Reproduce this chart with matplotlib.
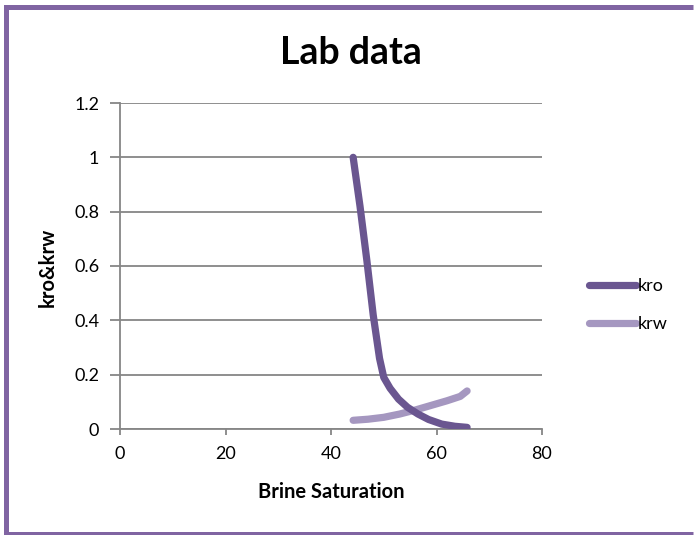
import matplotlib
matplotlib.use("Agg")
import matplotlib.pyplot as plt
from matplotlib.lines import Line2D

plt.rcParams["font.family"] = ["Lato", "DejaVu Sans"]

# Lab data: relative permeability vs brine saturation
sw_kro = [44.2, 45.5, 46.8, 48.0, 49.2, 50.0, 51.2, 52.8, 54.5, 56.5, 58.5, 61.0, 63.5, 65.8]
kro = [1.0, 0.82, 0.62, 0.42, 0.26, 0.19, 0.15, 0.11, 0.08, 0.055, 0.035, 0.018, 0.010, 0.006]

sw_krw = [44.2, 47.0, 50.0, 53.0, 56.0, 59.0, 62.0, 64.5, 65.8]
krw = [0.032, 0.036, 0.043, 0.055, 0.07, 0.087, 0.104, 0.12, 0.14]

x_ticks = [0, 20, 40, 60, 80]
y_ticks = [0, 0.2, 0.4, 0.6, 0.8, 1, 1.2]
y_labels = ["0", "0.2", "0.4", "0.6", "0.8", "1", "1.2"]

KRO_COLOR = "#6A5690"
KRW_COLOR = "#A597C0"
GRID = "#868686"
BORDER = "#8064A2"

fig = plt.figure(figsize=(6.94, 5.35), dpi=100)
ax = fig.add_axes([120 / 694, 1 - 429 / 535, 422 / 694, 326 / 535])

ax.plot(sw_kro, kro, color=KRO_COLOR, lw=5.2, solid_capstyle="round",
        solid_joinstyle="round", label="kro", zorder=3)
ax.plot(sw_krw, krw, color=KRW_COLOR, lw=5.2, solid_capstyle="round",
        solid_joinstyle="round", label="krw", zorder=2)

ax.set_xlim(0, 80)
ax.set_ylim(0, 1.2)
ax.set_xticks(x_ticks)
ax.set_yticks(y_ticks)
ax.set_yticklabels(y_labels)
ax.grid(axis="y", color=GRID, lw=1.3)
ax.set_axisbelow(True)

for s in ["top", "right"]:
    ax.spines[s].set_visible(False)
for s in ["left", "bottom"]:
    ax.spines[s].set_color(GRID)
    ax.spines[s].set_linewidth(1.3)
ax.tick_params(axis="y", length=7, width=1.3, color=GRID, labelsize=13, pad=8)
ax.tick_params(axis="x", length=4, width=1.3, color=GRID, labelsize=13, pad=8)

fig.text(351 / 694, 1 - 53 / 535, "Lab data", ha="center", va="center",
         fontsize=27, fontweight="bold")
fig.text(331 / 694, 1 - 492 / 535, "Brine Saturation", ha="center", va="center",
         fontsize=14.5, fontweight="bold")
fig.text(48 / 694, 1 - 267 / 535, "kro&krw", ha="center", va="center",
         rotation=90, fontsize=14.5, fontweight="bold")

fig.legend(loc="center left", bbox_to_anchor=(573 / 694, 1 - 305 / 535),
           frameon=False, fontsize=13, handlelength=2.6, handletextpad=0.1,
           labelspacing=1.2)

# purple chart border: one open path, right edge is cut off in the picture
x0, y_top, y_bot = 5.5 / 694, 1 - 6.5 / 535, 1.5 / 535
fig.add_artist(Line2D([0.999, x0, x0, 0.999], [y_top, y_top, y_bot, y_bot],
                      transform=fig.transFigure, color=BORDER, lw=3.6,
                      solid_capstyle="butt", solid_joinstyle="miter"))

fig.savefig("out.png", dpi=100)
